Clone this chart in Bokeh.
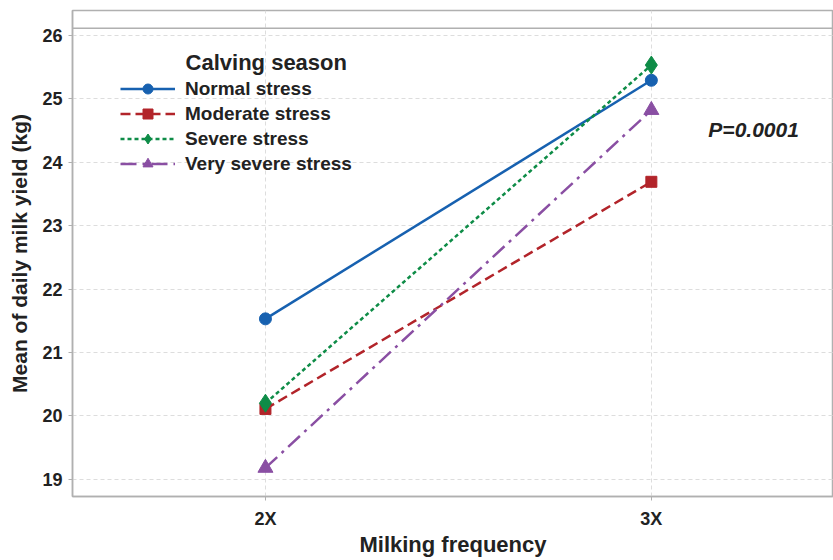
from bokeh.plotting import figure
from bokeh.models import FixedTicker, Span, Label, Legend, LegendItem
from bokeh.embed import file_html
from bokeh.resources import INLINE

categories = ["2X", "3X"]
series_names = ["Normal stress", "Moderate stress", "Severe stress", "Very severe stress"]
normal = [21.53, 25.29]
moderate = [20.11, 23.69]
severe = [20.20, 25.53]
very_severe = [19.18, 24.82]
y_ticks = [19, 20, 21, 22, 23, 24, 25, 26]

FONT = "Liberation Sans"
xpos = [i + 1 for i in range(len(categories))]

p = figure(width=833, height=560, output_backend="svg", toolbar_location=None,
           x_range=(0.5, 2.472), y_range=(18.73, 26.39),
           min_border_left=72, min_border_right=0, min_border_top=10, min_border_bottom=64)
p.background_fill_color = "white"
p.border_fill_color = "white"
p.outline_line_color = "#b0b0b0"
p.outline_line_width = 1.5

p.xaxis.ticker = FixedTicker(ticks=xpos)
p.xaxis.major_label_overrides = {x: c for x, c in zip(xpos, categories)}
p.yaxis.ticker = FixedTicker(ticks=y_ticks)
for ax in (p.xaxis[0], p.yaxis[0]):
    ax.axis_line_color = "#b0b0b0"
    ax.axis_line_width = 1.5
    ax.major_tick_line_color = "#b0b0b0"
    ax.major_tick_out = 4
    ax.major_tick_in = 0
    ax.minor_tick_line_color = None
    ax.major_label_text_font = FONT
    ax.major_label_text_font_style = "bold"
    ax.major_label_text_font_size = "18px"
    ax.major_label_text_color = "#222222"
    ax.axis_label_text_font = FONT
    ax.axis_label_text_font_style = "bold"
    ax.axis_label_text_color = "#222222"
p.xaxis.axis_label = "Milking frequency"
p.yaxis.axis_label = "Mean of daily milk yield (kg)"
p.xaxis.axis_label_text_font_size = "22px"
p.yaxis.axis_label_text_font_size = "21px"
p.xaxis.major_label_standoff = 8
p.xaxis.axis_label_standoff = 0
p.yaxis.major_label_standoff = 6
p.yaxis.axis_label_standoff = 8

p.xgrid.grid_line_color = "#dddddd"
p.ygrid.grid_line_color = "#dddddd"
p.xgrid.grid_line_dash = "4 3"
p.ygrid.grid_line_dash = "4 3"

p.add_layout(Span(location=26.11, dimension="width", line_color="#b0b0b0", line_width=1.5))

colors = ["#1761b0", "#b2242a", "#0e8c47", "#8a4fa3"]
dashes = ["solid", "10 5", "4 3", "16 6 3 6"]
markers = ["circle", "square", "diamond", "triangle"]
sizes = [12, 11, 18, 15]
data = [normal, moderate, severe, very_severe]

items = []
for name, vals, c, d, m, s in zip(series_names, data, colors, dashes, markers, sizes):
    ln = p.line(xpos, vals, line_color=c, line_width=2.5, line_dash=d)
    sc = p.scatter(xpos, vals, marker=m, size=s, fill_color=c, line_color=c)
    items.append(LegendItem(label=name, renderers=[ln, sc]))

legend = Legend(items=items, location=(42, 314))
legend.label_text_font = FONT
legend.label_text_font_style = "bold"
legend.label_text_font_size = "19px"
legend.label_text_color = "#222222"
legend.glyph_width = 55
legend.glyph_height = 25
legend.label_height = 20
legend.spacing = 0
legend.label_standoff = 10
legend.background_fill_alpha = 0
legend.border_line_alpha = 0
legend.padding = 6
p.add_layout(legend, "center")

p.add_layout(Label(x=0.793, y=25.575, text="Calving season", text_font=FONT, text_font_style="bold",
                   text_font_size="22px", text_color="#222222", text_align="left", text_baseline="middle"))

p.add_layout(Label(x=2.265, y=24.52, text="P=0.0001", text_font=FONT, text_font_style="bold italic",
                   text_font_size="21px", text_color="#222222", text_align="center", text_baseline="middle"))

open("out.html", "w").write(file_html(p, INLINE))
